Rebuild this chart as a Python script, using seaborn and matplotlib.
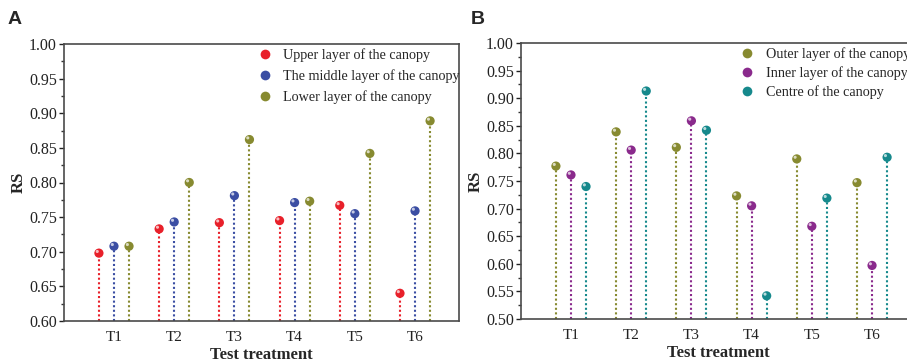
import numpy as np
import pandas as pd
import matplotlib
matplotlib.use("Agg")
import matplotlib.pyplot as plt
import matplotlib.transforms as mtransforms
from matplotlib.ticker import MultipleLocator
import seaborn as sns

# data
treatments = ["T1", "T2", "T3", "T4", "T5", "T6"]

upper_layer = [0.698, 0.733, 0.742, 0.745, 0.767, 0.640]
middle_layer = [0.708, 0.743, 0.781, 0.771, 0.755, 0.759]
lower_layer = [0.708, 0.800, 0.862, 0.773, 0.842, 0.889]

outer_layer = [0.777, 0.839, 0.811, 0.723, 0.790, 0.747]
inner_layer = [0.761, 0.806, 0.859, 0.705, 0.668, 0.597]
centre = [0.740, 0.913, 0.842, 0.542, 0.719, 0.793]

names_a = ["Upper layer of the canopy", "The middle layer of the canopy", "Lower layer of the canopy"]
names_b = ["Outer layer of the canopy", "Inner layer of the canopy", "Centre of the canopy"]
colors_a = ["#e8202a", "#3b4ea3", "#878a30"]
colors_b = ["#878a30", "#8a2a8c", "#16898c"]

sns.set_theme(style="ticks")
plt.rcParams["font.family"] = ["Liberation Serif", "DejaVu Serif"]


def build_frame(series, names):
    rows = []
    for k, (vals, nm) in enumerate(zip(series, names)):
        for i, v in enumerate(vals):
            rows.append({"pos": i + 1 + (k - 1) * 0.25, "RS": v, "group": nm})
    return pd.DataFrame(rows)


def lollipop(ax, series, names, colors, ymin, ymax, major, leg_x, leg_spacing, ylab_x):
    df = build_frame(series, names)
    for nm, c in zip(names, colors):
        sub = df[df["group"] == nm]
        ax.vlines(sub["pos"], ymin, sub["RS"], colors=c, linestyles=(0, (1, 1.2)),
                  linewidth=1.5, zorder=2)
    sns.scatterplot(data=df, x="pos", y="RS", hue="group", palette=colors,
                    hue_order=names, s=44, edgecolor="none", ax=ax, zorder=3,
                    legend=True)
    # small glossy highlight on each ball
    shift = mtransforms.offset_copy(ax.transData, fig=ax.figure, x=-1.2, y=1.2, units="points")
    ax.scatter(df["pos"], df["RS"], s=5, color="white", alpha=0.7,
               edgecolor="none", transform=shift, zorder=4)

    ax.set_xlim(0.17, 6.73)
    ax.set_ylim(ymin, ymax)
    ax.set_xticks(range(1, 7))
    ax.set_xticklabels(treatments)
    ax.yaxis.set_major_locator(MultipleLocator(major))
    ax.yaxis.set_minor_locator(MultipleLocator(major / 2))
    ax.yaxis.set_major_formatter(matplotlib.ticker.FormatStrFormatter("%.2f"))
    ax.tick_params(axis="x", length=0, labelsize=11, pad=7, colors="#222222")
    ax.tick_params(axis="y", which="major", length=3.6, width=1, labelsize=11.5,
                   pad=1.5, direction="out", colors="#222222")
    ax.tick_params(axis="y", which="minor", length=2, width=1, direction="out",
                   color="#333333")
    for sp in ax.spines.values():
        sp.set_linewidth(1.2)
        sp.set_color("#4a4a4a")
    ax.set_xlabel("Test treatment", fontsize=12, fontweight="bold")
    ax.set_ylabel("RS", fontsize=12, fontweight="bold")
    ax.xaxis.set_label_coords(0.5, -0.095)
    ax.yaxis.set_label_coords(ylab_x, 0.5)

    handles, labels = ax.get_legend_handles_labels()
    leg = ax.legend(handles, labels, loc="upper left", frameon=False,
                    fontsize=10.2, handlelength=1.0, handletextpad=0.8,
                    labelspacing=leg_spacing, borderaxespad=0.0,
                    bbox_to_anchor=(leg_x, 1.007))
    for h in leg.legend_handles:
        h.set_markersize(7)
    return leg


fig = plt.figure(figsize=(9.07, 3.62), dpi=100)
ax1 = fig.add_axes([64 / 907, 1 - 321 / 362, (459 - 64) / 907, (321 - 44) / 362])
ax2 = fig.add_axes([521 / 907, 1 - 319 / 362, (916 - 521) / 907, (319 - 43) / 362])

lollipop(ax1, [upper_layer, middle_layer, lower_layer], names_a, colors_a,
         0.60, 1.00, 0.05, 0.476, 0.54, -0.094)
lollipop(ax2, [outer_layer, inner_layer, centre], names_b, colors_b,
         0.50, 1.00, 0.05, 0.541, 0.39, -0.095)

fig.text(8 / 907, 1 - 20 / 362, "A", fontsize=14, fontweight="bold",
         family=["Liberation Sans", "DejaVu Sans"], va="center")
fig.text(471 / 907, 1 - 20 / 362, "B", fontsize=14, fontweight="bold",
         family=["Liberation Sans", "DejaVu Sans"], va="center")

fig.savefig("out.png", dpi=100)
